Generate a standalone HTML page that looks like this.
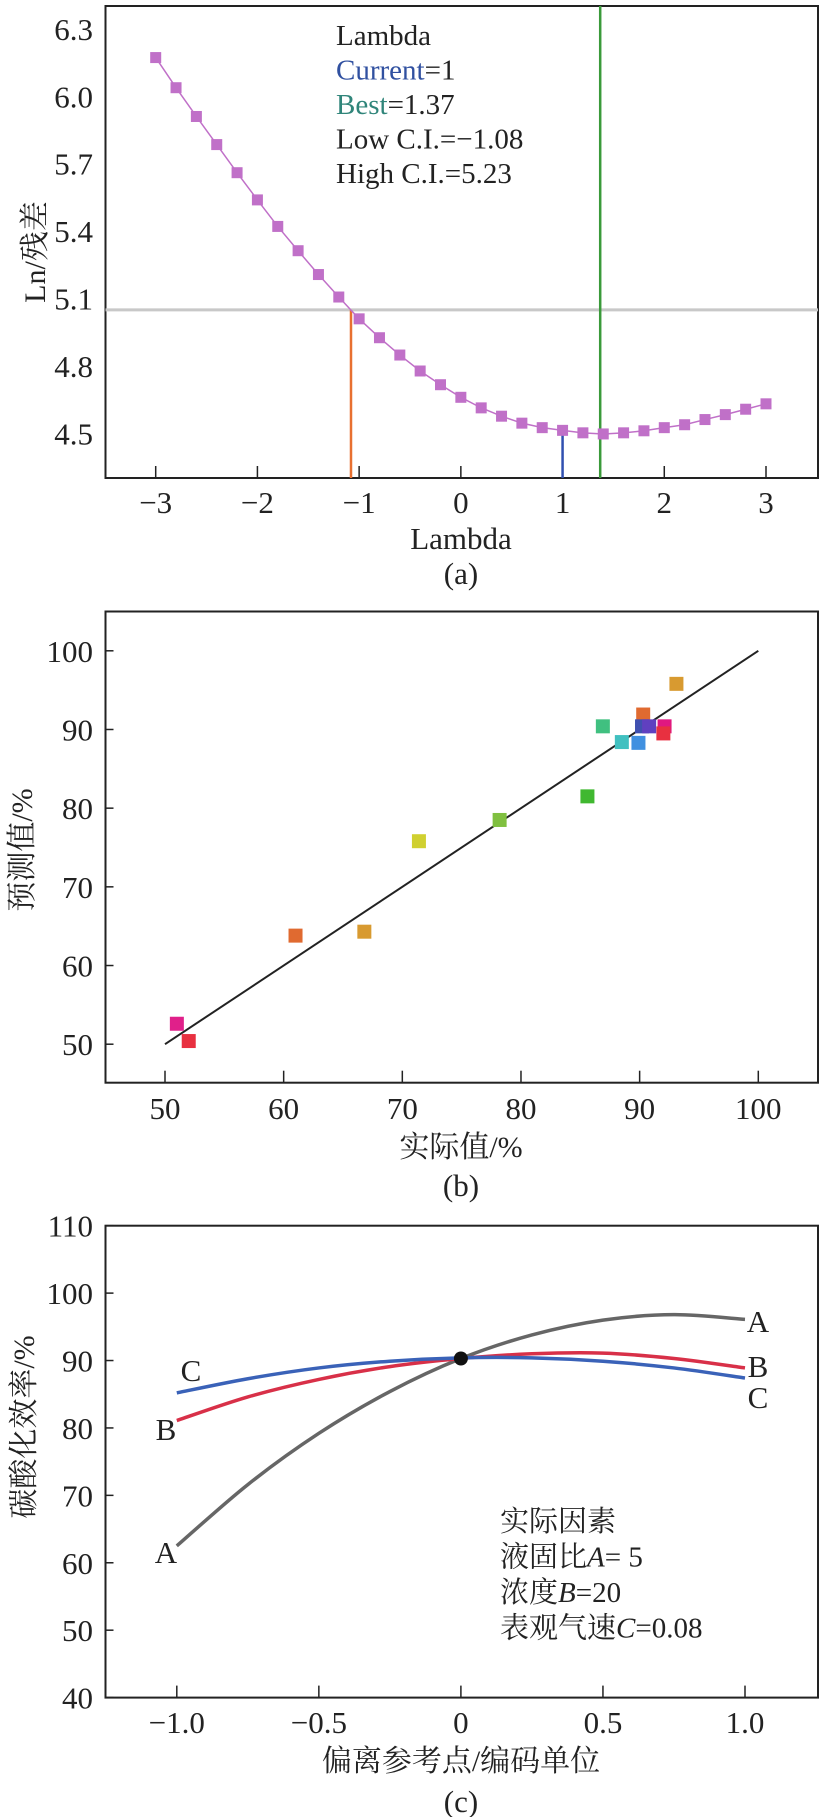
<!DOCTYPE html>
<html><head><meta charset="utf-8">
<style>
html,body{margin:0;padding:0;background:#fff;}
svg{display:block;}
text{font-family:"Liberation Serif","Noto Serif CJK SC",serif;fill:#222;}
</style></head>
<body>
<svg id="root" width="823" height="1817" viewBox="0 0 823 1817" xmlns="http://www.w3.org/2000/svg">
<g id="ga"></g>
<g id="gb"></g>
<g id="gc"></g>
</svg>
<script>
// ---- Chart (a) data ----
const lambdaX = [-3,-2.8,-2.6,-2.4,-2.2,-2,-1.8,-1.6,-1.4,-1.2,-1,-0.8,-0.6,-0.4,-0.2,0,0.2,0.4,0.6,0.8,1,1.2,1.4,1.6,1.8,2,2.2,2.4,2.6,2.8,3];
const lnResidual = [6.172,6.038,5.910,5.785,5.660,5.539,5.421,5.313,5.207,5.107,5.010,4.926,4.849,4.778,4.717,4.661,4.614,4.577,4.546,4.526,4.514,4.503,4.498,4.503,4.512,4.526,4.539,4.562,4.584,4.608,4.632];
const aXTicks = [-3,-2,-1,0,1,2,3];
const aYTicks = [4.5,4.8,5.1,5.4,5.7,6.0,6.3];
const ciThreshold = 5.05;
const lambdaCurrent = 1, lambdaBest = 1.37, lambdaLow = -1.08;
// ---- Chart (b) data ----
const actualVals = [51,52,61,66.8,71.4,78.2,85.6,86.9,88.5,89.9,90.3,90.2,90.8,92.1,92.0,93.1];
const predictedVals = [52.6,50.4,63.8,64.3,75.8,78.5,81.5,90.4,88.4,88.3,91.9,90.4,90.4,90.4,89.5,95.8];
const pointColors = ["#e0208a","#e83040","#e06a30","#d89a30","#d0d030","#80c040","#40b830","#40c080","#40c0c0","#4090e0","#e06a30","#4050b0","#6040c0","#e01880","#e83040","#d89a30"];
const bTicks = [50,60,70,80,90,100];
// ---- Chart (c) data ----
const devX = [-1,-0.75,-0.5,-0.25,0,0.25,0.5,0.75,1];
const seriesA = [62.5,71.6,79.2,85.4,90.3,93.8,96.0,96.8,96.1];
const seriesB = [81.1,84.6,87.2,89.1,90.3,91.0,91.1,90.3,88.9];
const seriesC = [85.2,87.3,88.9,89.9,90.4,90.4,89.9,88.9,87.4];
const cXTicks = [-1,-0.5,0,0.5,1];
const cXLabels = ["\u22121.0","\u22120.5","0","0.5","1.0"];
const cYTicks = [40,50,60,70,80,90,100,110];

const NS="http://www.w3.org/2000/svg";
const FS=31;
function mk(parent,tag,attrs,txt){const e=document.createElementNS(NS,tag);for(const k in attrs)e.setAttribute(k,attrs[k]);if(txt!==undefined)e.textContent=txt;parent.appendChild(e);return e;}
function lin(d0,d1,r0,r1){return v=>r0+(v-d0)/(d1-d0)*(r1-r0);}
function fmtMinus(v){return v<0?"\u2212"+Math.abs(v):String(v);}

// ===== Chart (a) =====
(function(){
const g=document.getElementById('ga');
const L=105.5,R=818,T=6,B=478;
const x=lin(-3,3,155.7,766), y=lin(4.5,6.3,433.5,28.8);
let e;
e=mk(g,'rect',{x:L,y:T,width:R-L,height:B-T,fill:'none',stroke:'#222','stroke-width':2});

aXTicks.forEach(v=>{
 e=mk(g,'line',{x1:x(v),x2:x(v),y1:B,y2:B-12,stroke:'#222','stroke-width':1.5});
 
 e=mk(g,'text',{x:x(v),y:513,'font-size':FS,'text-anchor':'middle'},fmtMinus(v));
 
});
aYTicks.forEach(v=>{
 e=mk(g,'text',{x:93,y:y(v)+11,'font-size':FS,'text-anchor':'end'},v.toFixed(1));
 
});
e=mk(g,'line',{x1:L,x2:R,y1:y(ciThreshold),y2:y(ciThreshold),stroke:'#c8c8c8','stroke-width':3});

e=mk(g,'line',{x1:x(lambdaLow),x2:x(lambdaLow),y1:B,y2:y(ciThreshold),stroke:'#e87030','stroke-width':2.5});

e=mk(g,'line',{x1:x(lambdaBest),x2:x(lambdaBest),y1:T,y2:B,stroke:'#3a9a3a','stroke-width':2.5});

e=mk(g,'line',{x1:x(lambdaCurrent),x2:x(lambdaCurrent),y1:B,y2:y(4.5),stroke:'#3050b0','stroke-width':2.5});

e=mk(g,'polyline',{points:lambdaX.map((v,i)=>x(v)+','+y(lnResidual[i])).join(' '),fill:'none',stroke:'#c070c8','stroke-width':1.5});

lambdaX.forEach((v,i)=>{
 e=mk(g,'rect',{x:x(v)-5.5,y:y(lnResidual[i])-5.5,width:11,height:11,fill:'#c070c8'});
 
});
const leg=[["Lambda","#222",""],["Current","#3050a0","=1"],["Best","#30857a","=1.37"],["Low C.I.=\u22121.08","#222",""],["High C.I.=5.23","#222",""]];
leg.forEach((l,i)=>{
 e=mk(g,'text',{x:336,y:45+i*34.5,'font-size':29});
 
 mk(e,'tspan',{fill:l[1]},l[0]); if(l[2]) mk(e,'tspan',{fill:'#222'},l[2]);
});
e=mk(g,'text',{x:461,y:549,'font-size':FS,'text-anchor':'middle'},'Lambda');

e=mk(g,'text',{x:461,y:584,'font-size':FS,'text-anchor':'middle'},'(a)');

e=mk(g,'text',{x:0,y:0,'font-size':30,'text-anchor':'middle',transform:'translate(45,252) rotate(-90)'},'Ln/残差');

})();

// ===== Chart (b) =====
(function(){
const g=document.getElementById('gb');
const L=105.5,R=818,T=611.5,B=1082.7;
const x=lin(50,100,165,758.3), y=lin(50,100,1044.2,650.8);
let e;
e=mk(g,'rect',{x:L,y:T,width:R-L,height:B-T,fill:'none',stroke:'#222','stroke-width':2});

bTicks.forEach(v=>{
 e=mk(g,'line',{x1:x(v),x2:x(v),y1:B,y2:B-12,stroke:'#222','stroke-width':1.5});
 
 e=mk(g,'text',{x:x(v),y:1119,'font-size':FS,'text-anchor':'middle'},String(v));
 
 e=mk(g,'line',{x1:L,x2:L+8,y1:y(v),y2:y(v),stroke:'#222','stroke-width':1.5});
 
 e=mk(g,'text',{x:93,y:y(v)+11,'font-size':FS,'text-anchor':'end'},String(v));
 
});
e=mk(g,'line',{x1:x(50),y1:y(50),x2:x(100),y2:y(100),stroke:'#222','stroke-width':2});

actualVals.forEach((v,i)=>{
 e=mk(g,'rect',{x:x(v)-7,y:y(predictedVals[i])-7,width:14,height:14,fill:pointColors[i]});
 
});
e=mk(g,'text',{x:461,y:1157,'font-size':30,'text-anchor':'middle'},'实际值/%');

e=mk(g,'text',{x:461,y:1196,'font-size':FS,'text-anchor':'middle'},'(b)');

e=mk(g,'text',{x:0,y:0,'font-size':30,'text-anchor':'middle',transform:'translate(32,850) rotate(-90)'},'预测值/%');

})();

// ===== Chart (c) =====
(function(){
const g=document.getElementById('gc');
const L=105.5,R=818,T=1225.7,B=1697.6;
const x=lin(-1,1,176.8,745), y=lin(40,110,1697.6,1225.7);
let e;
e=mk(g,'rect',{x:L,y:T,width:R-L,height:B-T,fill:'none',stroke:'#222','stroke-width':2});

cXTicks.forEach((v,i)=>{
 e=mk(g,'line',{x1:x(v),x2:x(v),y1:B,y2:B-12,stroke:'#222','stroke-width':1.5});
 
 e=mk(g,'text',{x:x(v),y:1733,'font-size':FS,'text-anchor':'middle'},cXLabels[i]);
 
});
cYTicks.forEach(v=>{
 e=mk(g,'line',{x1:L,x2:L+8,y1:y(v),y2:y(v),stroke:'#222','stroke-width':1.5});
 
 e=mk(g,'text',{x:93,y:y(v)+11,'font-size':FS,'text-anchor':'end'},String(v));
 
});
function curve(vals,col,name){
 const P=devX.map((v,i)=>[x(v),y(vals[i])]);
 let d='M'+P[0][0]+','+P[0][1];
 for(let i=0;i<P.length-1;i++){
  const p0=P[Math.max(0,i-1)],p1=P[i],p2=P[i+1],p3=P[Math.min(P.length-1,i+2)];
  const c1=[p1[0]+(p2[0]-p0[0])/6,p1[1]+(p2[1]-p0[1])/6];
  const c2=[p2[0]-(p3[0]-p1[0])/6,p2[1]-(p3[1]-p1[1])/6];
  d+=' C'+c1[0]+','+c1[1]+' '+c2[0]+','+c2[1]+' '+p2[0]+','+p2[1];
 }
 const p=mk(g,'path',{d:d,fill:'none',stroke:col,'stroke-width':3.5,'stroke-linejoin':'round'});
 
 
}
curve(seriesA,'#666','curve-a');
curve(seriesB,'#d83048','curve-b');
curve(seriesC,'#3a62b8','curve-c');
e=mk(g,'circle',{cx:x(0),cy:y(90.3),r:7,fill:'#111'});

const labs=[['C',191,1381],['B',166,1440],['A',166,1563],['A',758,1332],['B',758,1377],['C',758,1408]];
labs.forEach(l=>{
 e=mk(g,'text',{x:l[1],y:l[2],'font-size':FS,'text-anchor':'middle'},l[0]);
 
});
const info=[['实际因素',''],['液固比','A','= 5'],['浓度','B','=20'],['表观气速','C','=0.08']];
info.forEach((l,i)=>{
 e=mk(g,'text',{x:500,y:1531+i*35.5,'font-size':29});
 
 mk(e,'tspan',{},l[0]); if(l[1]){mk(e,'tspan',{'font-style':'italic'},l[1]);mk(e,'tspan',{},l[2]);}
});
e=mk(g,'text',{x:461,y:1771,'font-size':30,'text-anchor':'middle'},'偏离参考点/编码单位');

e=mk(g,'text',{x:461,y:1812,'font-size':FS,'text-anchor':'middle'},'(c)');

e=mk(g,'text',{x:0,y:0,'font-size':30,'text-anchor':'middle',transform:'translate(34,1427) rotate(-90)'},'碳酸化效率/%');

})();
</script>
</body></html>
